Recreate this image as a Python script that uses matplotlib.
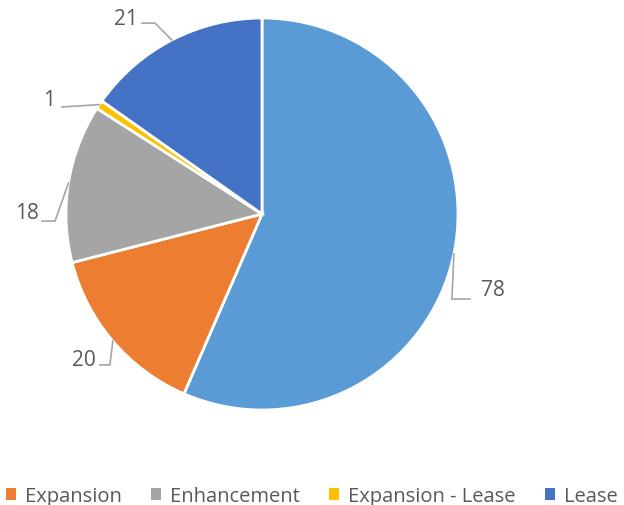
import numpy as np
import matplotlib
matplotlib.use("Agg")
import matplotlib.pyplot as plt
from matplotlib.patches import Patch

plt.rcParams['font.family'] = ['Open Sans', 'DejaVu Sans']

# slices, clockwise from 12 o'clock
categories = ['', 'Expansion', 'Enhancement', 'Expansion - Lease', 'Lease']
values = [78, 20, 18, 1, 21]
colors = ['#5B9BD5', '#ED7D31', '#A5A5A5', '#FFC000', '#4472C4']

# label text centre and leader elbow, in pie-radius units
label_pos = [(1.18, -0.383), (-0.908, -0.740), (-1.199, 0.010), (-1.084, 0.582), (-0.694, 0.995)]
elbow_pos = [(0.969, -0.434), (-0.776, -0.770), (-1.056, -0.036), (None), (-0.546, 0.974)]
stub_end = [(1.061, -0.434), (-0.827, -0.770), (-1.122, -0.036), (-1.021, 0.546), (-0.612, 0.974)]

fig = plt.figure(figsize=(6.24, 5.06), dpi=100)
R = 196.0
ax = fig.add_axes([0, 0, 1, 1])

wedges, _ = ax.pie(values, colors=colors, startangle=90, counterclock=False,
                   radius=1.0, wedgeprops=dict(edgecolor='white', linewidth=2))
ax.set_xlim(-262 / R, (624 - 262) / R)
ax.set_ylim(-(506 - 215) / R, 215 / R)
ax.axis('off')

total = float(sum(values))
start = 90.0
for i, v in enumerate(values):
    span = v / total * 360.0
    mid = np.deg2rad(start - span / 2)
    start -= span
    edge = (np.cos(mid), np.sin(mid))
    pts = [edge]
    if elbow_pos[i] is not None:
        pts.append(elbow_pos[i])
    pts.append(stub_end[i])
    xs, ys = zip(*pts)
    ax.plot(xs, ys, color='#A6A6A6', lw=1.2, solid_joinstyle='miter')
    ax.text(label_pos[i][0], label_pos[i][1], str(v), ha='center', va='center',
            fontsize=15, color='#595959')

handles = [Patch(facecolor=c, edgecolor='none') for c in colors[1:]]
fig.legend(handles, categories[1:], loc='lower center', bbox_to_anchor=(0.5, -0.038),
           ncol=4, frameon=False, fontsize=14.5, labelcolor='#595959',
           handlelength=0.5, handleheight=0.5, handletextpad=0.45, columnspacing=1.45)

fig.savefig('out.png', dpi=100)
